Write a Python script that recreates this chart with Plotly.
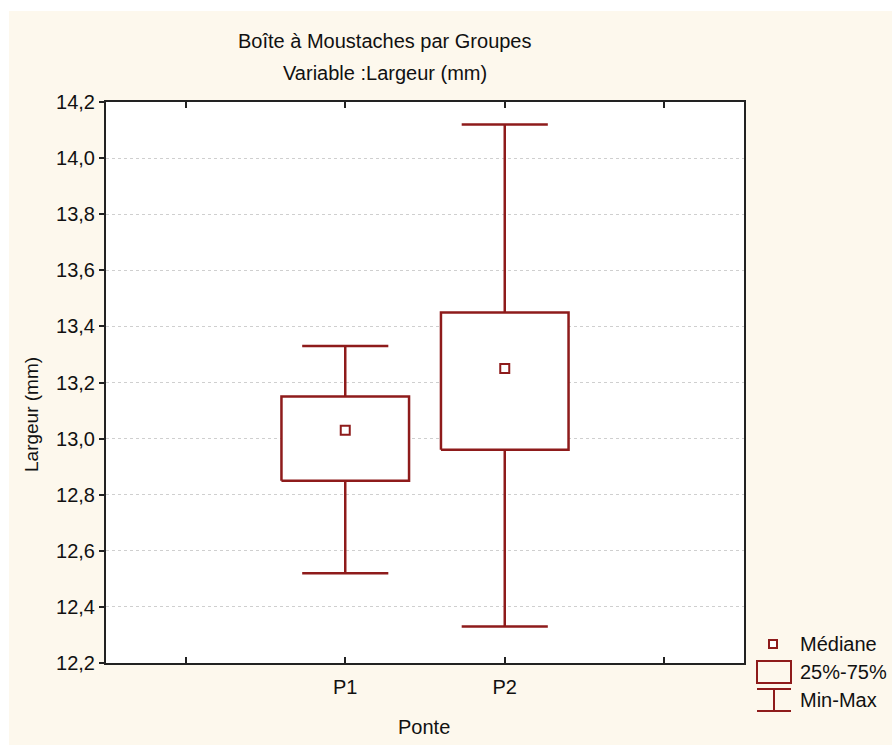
import plotly.graph_objects as go

# ---- data ----
groups = ["P1", "P2"]
group_pos = [1, 2]
mins = [12.52, 12.33]
q1s = [12.85, 12.96]
medians = [13.03, 13.25]
q3s = [13.15, 13.45]
maxs = [13.33, 14.12]
y_ticks = [12.2, 12.4, 12.6, 12.8, 13.0, 13.2, 13.4, 13.6, 13.8, 14.0, 14.2]
y_tick_labels = ["12,2", "12,4", "12,6", "12,8", "13,0", "13,2", "13,4", "13,6", "13,8", "14,0", "14,2"]
x_ticks = [0, 1, 2, 3]
x_tick_labels = ["", "P1", "P2", ""]

RED = "#8E1B1B"
CREAM = "#FDF8ED"
FONT = "Liberation Sans, Arial, sans-serif"

BOX_HALF = 0.40
CAP_HALF = 0.27

# target pixel geometry
L, R, T, B = 106, 744, 102, 663
W, H = 892, 745


def px(x):
    return (x - L) / (R - L)


def py(y):
    return (B - y) / (B - T)


fig = go.Figure()

# whiskers and caps
wx, wy = [], []
for p, lo, a, b, hi in zip(group_pos, mins, q1s, q3s, maxs):
    wx += [p, p, None, p, p, None,
           p - CAP_HALF, p + CAP_HALF, None, p - CAP_HALF, p + CAP_HALF, None]
    wy += [b, hi, None, a, lo, None, hi, hi, None, lo, lo, None]
fig.add_trace(go.Scatter(x=wx, y=wy, mode="lines",
                         line=dict(color=RED, width=2.5),
                         hoverinfo="skip", showlegend=False))

# boxes
for p, a, b in zip(group_pos, q1s, q3s):
    fig.add_trace(go.Scatter(
        x=[p - BOX_HALF, p + BOX_HALF, p + BOX_HALF, p - BOX_HALF, p - BOX_HALF],
        y=[a, a, b, b, a], mode="lines", fill="toself", fillcolor="white",
        line=dict(color=RED, width=2.5), hoverinfo="skip", showlegend=False))

# medians
fig.add_trace(go.Scatter(x=group_pos, y=medians, mode="markers",
                         marker=dict(symbol="square", size=9, color="white",
                                     line=dict(color=RED, width=2)),
                         showlegend=False))

shapes = [
    # white strips outside the cream frame
    dict(type="rect", xref="paper", yref="paper", x0=px(0), x1=px(9), y0=py(760), y1=py(0),
         fillcolor="white", line=dict(width=0), layer="below"),
    dict(type="rect", xref="paper", yref="paper", x0=px(0), x1=px(900), y0=py(11), y1=py(0),
         fillcolor="white", line=dict(width=0), layer="below"),
    # legend icons
    dict(type="rect", xref="paper", yref="paper", x0=px(769), x1=px(777), y0=py(648), y1=py(640),
         fillcolor="white", line=dict(color=RED, width=2)),
    dict(type="rect", xref="paper", yref="paper", x0=px(757), x1=px(791), y0=py(683), y1=py(661),
         fillcolor="rgba(0,0,0,0)", line=dict(color=RED, width=2)),
    dict(type="line", xref="paper", yref="paper", x0=px(757), x1=px(791), y0=py(689), y1=py(689),
         line=dict(color=RED, width=2)),
    dict(type="line", xref="paper", yref="paper", x0=px(757), x1=px(791), y0=py(711), y1=py(711),
         line=dict(color=RED, width=2)),
    dict(type="line", xref="paper", yref="paper", x0=px(774), x1=px(774), y0=py(689), y1=py(711),
         line=dict(color=RED, width=2)),
]


def note(text, x, y, size=20, xanchor="center", angle=0):
    return dict(text=text, xref="paper", yref="paper", x=px(x), y=py(y),
                xanchor=xanchor, yanchor="middle", textangle=angle, showarrow=False,
                font=dict(family=FONT, size=size, color="#111"))


annotations = [
    note("Boîte à Moustaches par Groupes", 385, 41),
    note("Variable :Largeur (mm)", 385, 73),
    note("Largeur (mm)", 32, 415, size=19, angle=-90),
    note("Ponte", 424, 727),
    note("Médiane", 798, 644, xanchor="left"),
    note("25%-75%", 798, 672, xanchor="left"),
    note("Min-Max", 798, 700, xanchor="left"),
]

fig.update_layout(
    width=W, height=H,
    margin=dict(l=L, r=W - R, t=T, b=H - B, pad=0),
    paper_bgcolor=CREAM, plot_bgcolor="white",
    font=dict(family=FONT, size=19, color="#111"),
    showlegend=False,
    shapes=shapes, annotations=annotations,
    xaxis=dict(range=[-0.5, 3.5], tickvals=x_ticks, ticktext=x_tick_labels,
               ticks="inside", ticklen=6, tickwidth=1.5, tickcolor="#222",
               showline=True, linecolor="#222", linewidth=2, mirror="ticks",
               showgrid=False, zeroline=False, fixedrange=True,
               tickfont=dict(family=FONT, size=20), ticklabelstandoff=5),
    yaxis=dict(range=[12.2, 14.2], tickvals=y_ticks, ticktext=y_tick_labels,
               ticks="outside", ticklen=5, tickwidth=1.5, tickcolor="#222",
               showline=True, linecolor="#222", linewidth=2, mirror=True,
               showgrid=True, gridcolor="#cfcfcf", gridwidth=1, griddash="dot",
               zeroline=False, fixedrange=True, tickfont=dict(family=FONT, size=20)),
    yaxis2=dict(range=[12.2, 14.2], tickvals=y_ticks, overlaying="y", side="right",
                ticks="inside", ticklen=4, tickwidth=1.5, tickcolor="#222",
                showticklabels=False, showgrid=False, zeroline=False, showline=False,
                fixedrange=True),
)

fig.write_html(
    "out.html",
    config={"displayModeBar": False},
    post_script=("document.body.style.margin='0';"
                 "document.body.style.overflow='hidden';"
                 "document.body.style.background='" + CREAM + "';"),
)
